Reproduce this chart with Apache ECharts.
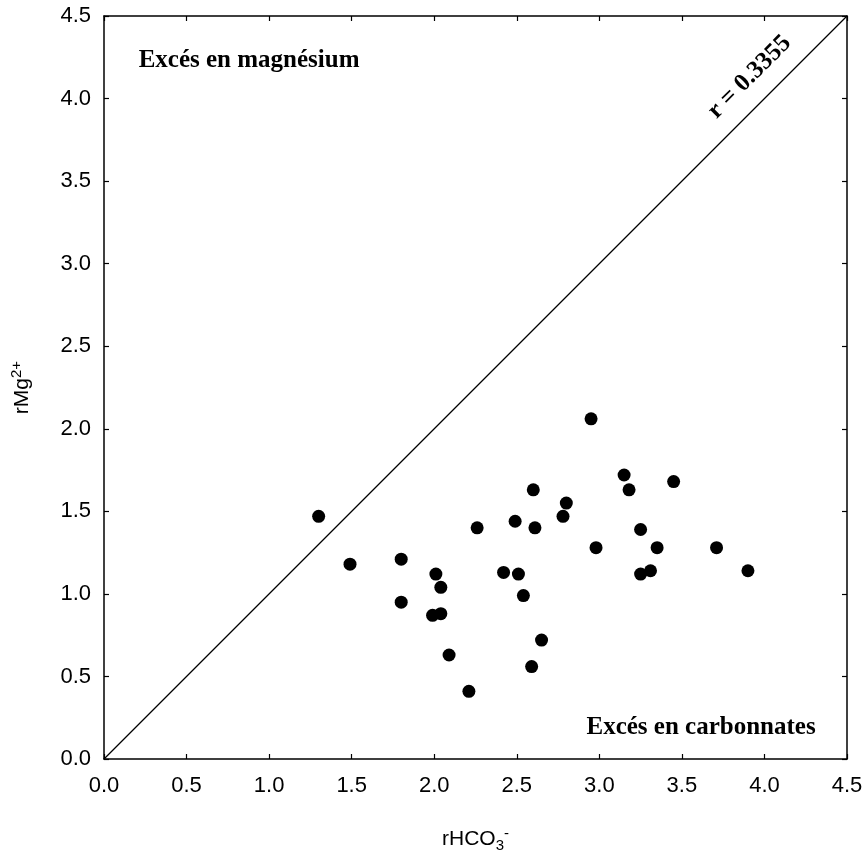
<!DOCTYPE html>
<html>
<head>
<meta charset="utf-8">
<script src="https://cdn.jsdelivr.net/npm/echarts@6/dist/echarts.min.js"></script>
<style>
html, body { margin: 0; padding: 0; background: #fff; }
#main { width: 866px; height: 854px; }
</style>
</head>
<body>
<div id="main"></div>
<script>
// rHCO3- (x) et rMg2+ (y)
var hco3 = [1.30, 1.49, 1.80, 1.80, 2.01, 2.04, 1.99, 2.04, 2.09, 2.21, 2.26, 2.42, 2.49, 2.51, 2.54,
    2.60, 2.61, 2.59, 2.65, 2.78, 2.80, 2.95, 2.98, 3.15, 3.18, 3.25, 3.25, 3.31, 3.35, 3.45, 3.71, 3.90];
var mg = [1.47, 1.18, 1.21, 0.95, 1.12, 1.04, 0.87, 0.88, 0.63, 0.41, 1.40, 1.13, 1.44, 1.12, 0.99,
    1.63, 1.40, 0.56, 0.72, 1.47, 1.55, 2.06, 1.28, 1.72, 1.63, 1.39, 1.12, 1.14, 1.28, 1.68, 1.28, 1.14];
var droite = [[0, 0], [4.5, 4.5]];
var axisMin = 0, axisMax = 4.5, pas = 0.5;

var points = [];
for (var i = 0; i < hco3.length; i++) {
    points.push([hco3[i], mg[i]]);
}

var myChart = echarts.init(document.getElementById('main'));

var sans = 'Liberation Sans, Arial';
var tickFont = { fontFamily: sans, fontSize: 22, color: '#000' };
var axisLine = { show: true, onZero: false, lineStyle: { color: '#000', width: 1.5 } };
var axisTick = { show: true, inside: true, length: 5, lineStyle: { color: '#000', width: 1.2 } };

option = {
    backgroundColor: '#fff',
    animation: false,
    grid: { left: 104, right: 19, top: 16, bottom: 95, containLabel: false, outerBoundsMode: 'none' },
    xAxis: [{
        type: 'value', min: axisMin, max: axisMax, interval: pas, position: 'bottom',
        axisLine: axisLine, axisTick: axisTick, splitLine: { show: false },
        axisLabel: Object.assign({ margin: 16, formatter: function (v) { return v.toFixed(1); } }, tickFont),
        name: '{n|rHCO}{sub|3}{sup|-}', nameLocation: 'middle', nameGap: 67,
        nameTextStyle: {
            rich: {
                n: { fontFamily: sans, fontSize: 21, color: '#000' },
                sub: { fontFamily: sans, fontSize: 15, color: '#000', padding: [12, 0, 0, 0] },
                sup: { fontFamily: sans, fontSize: 15, color: '#000', padding: [0, 0, 12, 0] }
            }
        }
    }, {
        type: 'value', min: axisMin, max: axisMax, interval: pas, position: 'top',
        axisLine: axisLine, axisTick: axisTick, axisLabel: { show: false }, splitLine: { show: false }
    }],
    yAxis: [{
        type: 'value', min: axisMin, max: axisMax, interval: pas, position: 'left',
        axisLine: axisLine, axisTick: axisTick, splitLine: { show: false },
        axisLabel: Object.assign({ margin: 13, formatter: function (v) { return v.toFixed(1); } }, tickFont),
        name: '{n|rMg}{sup|2+}', nameLocation: 'middle', nameGap: 68, nameRotate: 90,
        nameTextStyle: {
            rich: {
                n: { fontFamily: sans, fontSize: 21, color: '#000' },
                sup: { fontFamily: sans, fontSize: 15, color: '#000', padding: [0, 0, 12, 0] }
            }
        }
    }, {
        type: 'value', min: axisMin, max: axisMax, interval: pas, position: 'right',
        axisLine: axisLine, axisTick: axisTick, axisLabel: { show: false }, splitLine: { show: false }
    }],
    series: [{
        type: 'line',
        data: droite,
        symbol: 'none',
        lineStyle: { color: '#000', width: 1.3 },
        silent: true
    }, {
        type: 'scatter',
        data: points,
        symbol: 'circle',
        symbolSize: 13,
        itemStyle: { color: '#000', opacity: 1 }
    }]
};
myChart.setOption(option);

// annotations
var txtStyle = { fontFamily: 'Liberation Serif, Times New Roman', fontWeight: 'bold', fontSize: 25, fill: '#000' };
var pMag = myChart.convertToPixel({ gridIndex: 0 }, [0.21, 4.23]);
var pCarb = myChart.convertToPixel({ gridIndex: 0 }, [4.31, 0.19]);
var pR = myChart.convertToPixel({ gridIndex: 0 }, [3.91, 4.13]);
myChart.setOption({
    graphic: [{
        type: 'text', x: pMag[0], y: pMag[1],
        style: Object.assign({ text: 'Excés en magnésium', align: 'left', verticalAlign: 'middle' }, txtStyle)
    }, {
        type: 'text', x: pCarb[0], y: pCarb[1],
        style: Object.assign({ text: 'Excés en carbonnates', align: 'right', verticalAlign: 'middle' }, txtStyle)
    }, {
        type: 'text', x: pR[0], y: pR[1], rotation: Math.PI / 4,
        style: Object.assign({ text: 'r = 0.3355', align: 'center', verticalAlign: 'middle' }, txtStyle)
    }]
});
</script>
</body>
</html>
